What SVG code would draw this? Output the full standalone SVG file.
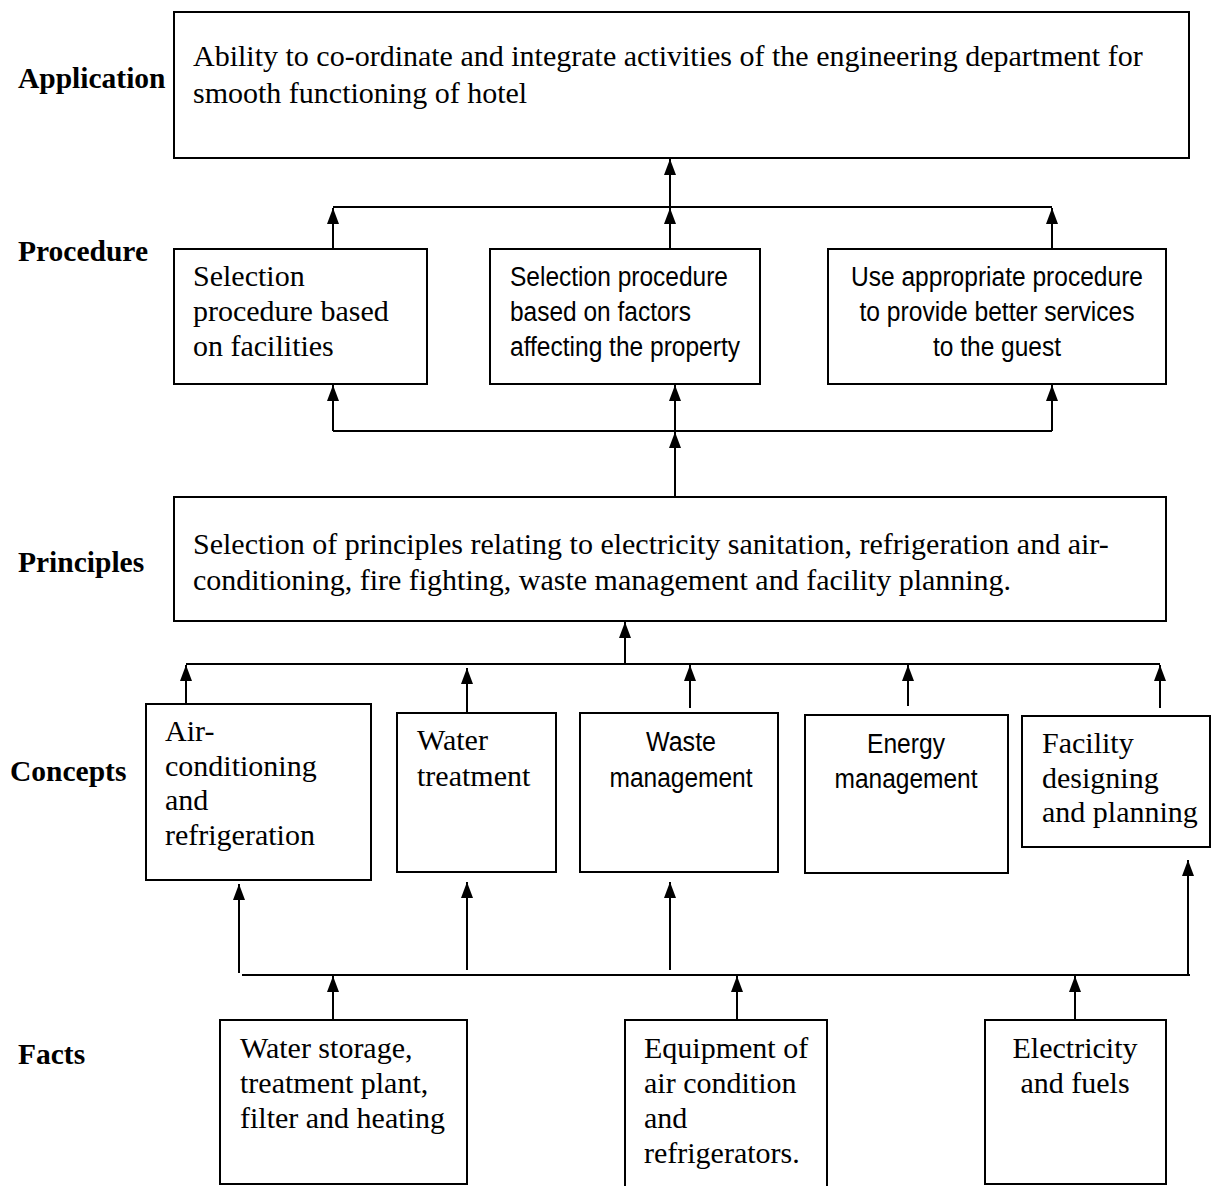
<svg xmlns="http://www.w3.org/2000/svg" width="1228" height="1186" viewBox="0 0 1228 1186">
<style>
.box{fill:#fff;stroke:#000;stroke-width:2}
.t{font-family:"Liberation Serif","Times New Roman",serif;font-size:30px;fill:#000}
.s{font-family:"Liberation Sans",Arial,sans-serif;font-size:27px;fill:#000}
.m{text-anchor:middle}
.lbl{font-family:"Liberation Serif","Times New Roman",serif;font-size:29.5px;font-weight:bold;fill:#000}
.c{stroke:#000;stroke-width:2;fill:none}
.a{stroke:#000;stroke-width:2;fill:none;marker-end:url(#ah)}
</style>
<defs>
<marker id="ah" viewBox="0 0 16 12" refX="16" refY="6" markerWidth="16" markerHeight="12" markerUnits="userSpaceOnUse" orient="auto">
<path d="M0,0 L16,6 L0,12 z" fill="#000"/>
</marker>
</defs>
<rect width="1228" height="1186" fill="#fff"/>

<g id="labels">
<text class="lbl" x="18" y="88">Application</text>
<text class="lbl" x="18" y="261">Procedure</text>
<text class="lbl" x="18" y="572">Principles</text>
<text class="lbl" x="10" y="781">Concepts</text>
<text class="lbl" x="18" y="1064">Facts</text>
</g>

<g id="application">
<rect class="box" x="174" y="12" width="1015" height="146"/>
<text class="t" x="193" y="66">Ability to co-ordinate and integrate activities of the engineering department for</text>
<text class="t" x="193" y="103">smooth functioning of hotel</text>
</g>

<g id="proc1">
<rect class="box" x="174" y="249" width="253" height="135"/>
<text class="t" x="193" y="286">Selection</text>
<text class="t" x="193" y="321">procedure based</text>
<text class="t" x="193" y="356">on facilities</text>
</g>
<g id="proc2">
<rect class="box" x="490" y="249" width="270" height="135"/>
<text class="s" x="510" y="286" textLength="218" lengthAdjust="spacingAndGlyphs">Selection procedure</text>
<text class="s" x="510" y="321" textLength="181" lengthAdjust="spacingAndGlyphs">based on factors</text>
<text class="s" x="510" y="356" textLength="230" lengthAdjust="spacingAndGlyphs">affecting the property</text>
</g>
<g id="proc3">
<rect class="box" x="828" y="249" width="338" height="135"/>
<text class="s m" x="997" y="286" textLength="292" lengthAdjust="spacingAndGlyphs">Use appropriate procedure</text>
<text class="s m" x="997" y="321" textLength="275" lengthAdjust="spacingAndGlyphs">to provide better services</text>
<text class="s m" x="997" y="356" textLength="128" lengthAdjust="spacingAndGlyphs">to the guest</text>
</g>

<g id="principles">
<rect class="box" x="174" y="497" width="992" height="124"/>
<text class="t" x="193" y="554">Selection of principles relating to electricity sanitation, refrigeration and air-</text>
<text class="t" x="193" y="590">conditioning, fire fighting, waste management and facility planning.</text>
</g>

<g id="concept1">
<rect class="box" x="146" y="704" width="225" height="176"/>
<text class="t" x="165" y="741">Air-</text>
<text class="t" x="165" y="776">conditioning</text>
<text class="t" x="165" y="810">and</text>
<text class="t" x="165" y="845">refrigeration</text>
</g>
<g id="concept2">
<rect class="box" x="397" y="713" width="159" height="159"/>
<text class="t" x="417" y="750">Water</text>
<text class="t" x="417" y="786">treatment</text>
</g>
<g id="concept3">
<rect class="box" x="580" y="713" width="198" height="159"/>
<text class="s m" x="681" y="751" textLength="70" lengthAdjust="spacingAndGlyphs">Waste</text>
<text class="s m" x="681" y="787" textLength="143" lengthAdjust="spacingAndGlyphs">management</text>
</g>
<g id="concept4">
<rect class="box" x="805" y="715" width="203" height="158"/>
<text class="s m" x="906" y="753" textLength="78" lengthAdjust="spacingAndGlyphs">Energy</text>
<text class="s m" x="906" y="788" textLength="143" lengthAdjust="spacingAndGlyphs">management</text>
</g>
<g id="concept5">
<rect class="box" x="1022" y="716" width="188" height="131"/>
<text class="t" x="1042" y="753">Facility</text>
<text class="t" x="1042" y="788">designing</text>
<text class="t" x="1042" y="822">and planning</text>
</g>

<g id="fact1">
<rect class="box" x="220" y="1020" width="247" height="164"/>
<text class="t" x="240" y="1058">Water storage,</text>
<text class="t" x="240" y="1093">treatment plant,</text>
<text class="t" x="240" y="1128">filter and heating</text>
</g>
<g id="fact2">
<rect class="box" x="625" y="1020" width="202" height="175"/>
<text class="t" x="644" y="1058">Equipment of</text>
<text class="t" x="644" y="1093">air condition</text>
<text class="t" x="644" y="1128">and</text>
<text class="t" x="644" y="1163">refrigerators.</text>
</g>
<g id="fact3">
<rect class="box" x="985" y="1020" width="181" height="164"/>
<text class="t m" x="1075" y="1058">Electricity</text>
<text class="t m" x="1075" y="1093">and fuels</text>
</g>

<g id="connectors">
<line class="a" x1="670" y1="207" x2="670" y2="159"/>
<path class="c" d="M333,207 H1052"/>
<line class="a" x1="333" y1="249" x2="333" y2="208"/>
<line class="a" x1="670" y1="249" x2="670" y2="208"/>
<line class="a" x1="1052" y1="249" x2="1052" y2="208"/>
<path class="c" d="M333,431 H1052"/>
<line class="a" x1="333" y1="431" x2="333" y2="385"/>
<line class="a" x1="675" y1="431" x2="675" y2="385"/>
<line class="a" x1="1052" y1="431" x2="1052" y2="385"/>
<line class="a" x1="675" y1="497" x2="675" y2="432"/>
<path class="c" d="M186,664 H1160"/>
<line class="a" x1="625" y1="664" x2="625" y2="622"/>
<line class="a" x1="186" y1="704" x2="186" y2="665"/>
<line class="a" x1="467" y1="713" x2="467" y2="668"/>
<line class="a" x1="690" y1="708" x2="690" y2="665"/>
<line class="a" x1="908" y1="706" x2="908" y2="665"/>
<line class="a" x1="1160" y1="708" x2="1160" y2="665"/>
<path class="c" d="M242,975 H1190"/>
<line class="a" x1="239" y1="973" x2="239" y2="884"/>
<line class="a" x1="467" y1="970" x2="467" y2="882"/>
<line class="a" x1="670" y1="970" x2="670" y2="882"/>
<line class="a" x1="1188" y1="975" x2="1188" y2="860"/>
<line class="a" x1="333" y1="1020" x2="333" y2="976"/>
<line class="a" x1="737" y1="1020" x2="737" y2="976"/>
<line class="a" x1="1075" y1="1020" x2="1075" y2="976"/>
</g>
</svg>
